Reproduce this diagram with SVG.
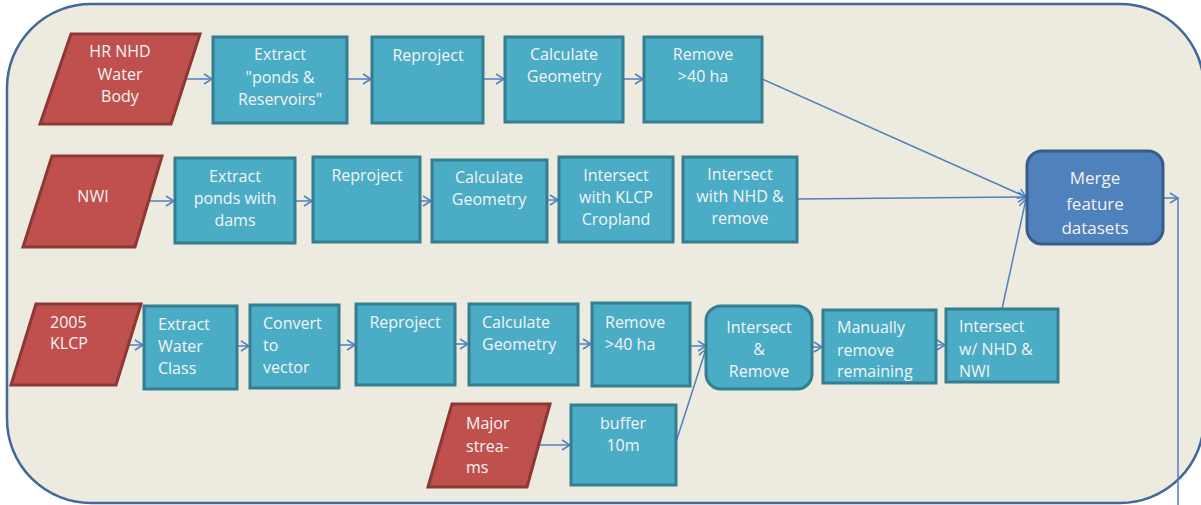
<svg xmlns="http://www.w3.org/2000/svg" width="1201" height="505" viewBox="0 0 1201 505">
<style>
.bg{fill:#EDEADF;stroke:#41689A;stroke-width:2.5}
.data{fill:#C0504D;stroke:#8C3836;stroke-width:3;stroke-linejoin:miter}
.proc{fill:#4BACC6;stroke:#357D91;stroke-width:3}
.merge{fill:#4F81BD;stroke:#385D8A;stroke-width:3}
text{font-family:"Open Sans","Noto Sans","Liberation Sans",sans-serif;font-size:16px;fill:#F4F4F4}
.c{text-anchor:middle}
.big{font-size:17px}
.conn{stroke:#4F81BD;stroke-width:1.5;fill:none}
</style>
<defs>
<marker id="ah" markerUnits="userSpaceOnUse" markerWidth="12" markerHeight="12" refX="9" refY="6" orient="auto">
<path d="M1,1 L9,6 L1,11" fill="none" stroke="#4F81BD" stroke-width="1.5"/>
</marker>
</defs>
<rect class="bg" x="7" y="4" width="1197" height="499" rx="84" ry="84"/>
<g id="connectors">
<line class="conn" x1="185" y1="79" x2="212" y2="79" marker-end="url(#ah)"/>
<line class="conn" x1="347" y1="79" x2="371" y2="79" marker-end="url(#ah)"/>
<line class="conn" x1="483" y1="79" x2="504" y2="79" marker-end="url(#ah)"/>
<line class="conn" x1="623" y1="79" x2="643" y2="79" marker-end="url(#ah)"/>
<line class="conn" x1="762" y1="79" x2="1026" y2="197" marker-end="url(#ah)"/>
<line class="conn" x1="148" y1="201" x2="174" y2="201" marker-end="url(#ah)"/>
<line class="conn" x1="295" y1="201" x2="312" y2="201" marker-end="url(#ah)"/>
<line class="conn" x1="420" y1="201" x2="431" y2="201" marker-end="url(#ah)"/>
<line class="conn" x1="547" y1="200" x2="558" y2="200" marker-end="url(#ah)"/>
<line class="conn" x1="797" y1="199" x2="1026" y2="197" marker-end="url(#ah)"/>
<line class="conn" x1="1002" y1="309" x2="1026" y2="199" marker-end="url(#ah)"/>
<line class="conn" x1="1163" y1="198" x2="1178" y2="198" marker-end="url(#ah)"/>
<line class="conn" x1="1178" y1="198" x2="1178" y2="505"/>
<line class="conn" x1="128" y1="345" x2="143" y2="345" marker-end="url(#ah)"/>
<line class="conn" x1="237" y1="346" x2="249" y2="346" marker-end="url(#ah)"/>
<line class="conn" x1="339" y1="345" x2="355" y2="345" marker-end="url(#ah)"/>
<line class="conn" x1="455" y1="344" x2="468" y2="344" marker-end="url(#ah)"/>
<line class="conn" x1="578" y1="344" x2="591" y2="344" marker-end="url(#ah)"/>
<line class="conn" x1="690" y1="346" x2="706" y2="346" marker-end="url(#ah)"/>
<line class="conn" x1="812" y1="347" x2="822" y2="347" marker-end="url(#ah)"/>
<line class="conn" x1="936" y1="345" x2="945" y2="345" marker-end="url(#ah)"/>
<line class="conn" x1="538" y1="445" x2="570" y2="445" marker-end="url(#ah)"/>
<line class="conn" x1="676" y1="442" x2="706" y2="349" marker-end="url(#ah)"/>
</g>
<g id="hr-nhd">
<polygon class="data" points="71,34 200,34 171,124 40,124"/>
<text class="c" x="120" y="57">HR NHD</text>
<text class="c" x="120" y="80">Water</text>
<text class="c" x="120" y="102">Body</text>
</g>
<g id="extract-ponds-res">
<rect class="proc" x="213" y="37" width="134" height="86"/>
<text class="c" x="280" y="60">Extract</text>
<text class="c" x="280" y="83">"ponds &amp;</text>
<text class="c" x="280" y="105">Reservoirs"</text>
</g>
<g id="reproject1">
<rect class="proc" x="372" y="37" width="111" height="86"/>
<text class="c" x="428" y="61">Reproject</text>
</g>
<g id="calc1">
<rect class="proc" x="505" y="37" width="118" height="85"/>
<text class="c" x="564" y="60">Calculate</text>
<text class="c" x="564" y="82">Geometry</text>
</g>
<g id="remove1">
<rect class="proc" x="644" y="37" width="118" height="85"/>
<text class="c" x="703" y="60">Remove</text>
<text class="c" x="703" y="82">&gt;40 ha</text>
</g>
<g id="merge">
<rect class="merge" x="1027" y="151" width="136" height="93" rx="15" ry="15"/>
<text class="c big" x="1095" y="184">Merge</text>
<text class="c big" x="1095" y="210">feature</text>
<text class="c big" x="1095" y="234">datasets</text>
</g>
<g id="nwi">
<polygon class="data" points="52,156 162,156 135,247 23,247"/>
<text class="c" x="93" y="202">NWI</text>
</g>
<g id="extract-dams">
<rect class="proc" x="175" y="158" width="120" height="85"/>
<text class="c" x="235" y="182">Extract</text>
<text class="c" x="235" y="204">ponds with</text>
<text class="c" x="235" y="226">dams</text>
</g>
<g id="reproject2">
<rect class="proc" x="313" y="157" width="107" height="85"/>
<text class="c" x="367" y="181">Reproject</text>
</g>
<g id="calc2">
<rect class="proc" x="432" y="160" width="115" height="82"/>
<text class="c" x="489" y="183">Calculate</text>
<text class="c" x="489" y="205">Geometry</text>
</g>
<g id="intersect-klcp">
<rect class="proc" x="559" y="157" width="114" height="85"/>
<text class="c" x="616" y="181">Intersect</text>
<text class="c" x="616" y="203">with KLCP</text>
<text class="c" x="616" y="225">Cropland</text>
</g>
<g id="intersect-nhd">
<rect class="proc" x="683" y="157" width="114" height="85"/>
<text class="c" x="740" y="180">Intersect</text>
<text class="c" x="740" y="202">with NHD &amp;</text>
<text class="c" x="740" y="224">remove</text>
</g>
<g id="klcp">
<polygon class="data" points="36,304 141,304 116,385 11,385"/>
<text x="50" y="328">2005</text>
<text x="50" y="349">KLCP</text>
</g>
<g id="extract-water">
<rect class="proc" x="144" y="306" width="93" height="83"/>
<text x="158" y="330">Extract</text>
<text x="158" y="352">Water</text>
<text x="158" y="374">Class</text>
</g>
<g id="convert">
<rect class="proc" x="250" y="305" width="89" height="83"/>
<text x="263" y="329">Convert</text>
<text x="263" y="351">to</text>
<text x="263" y="373">vector</text>
</g>
<g id="reproject3">
<rect class="proc" x="356" y="304" width="99" height="81"/>
<text class="c" x="405" y="328">Reproject</text>
</g>
<g id="calc3">
<rect class="proc" x="469" y="304" width="109" height="81"/>
<text x="482" y="328">Calculate</text>
<text x="482" y="350">Geometry</text>
</g>
<g id="remove3">
<rect class="proc" x="592" y="303" width="98" height="83"/>
<text x="605" y="328">Remove</text>
<text x="605" y="350">&gt;40 ha</text>
</g>
<g id="intersect-remove">
<rect class="proc" x="706" y="306" width="106" height="83" rx="15" ry="15"/>
<text class="c" x="759" y="333">Intersect</text>
<text class="c" x="759" y="355">&amp;</text>
<text class="c" x="759" y="377">Remove</text>
</g>
<g id="manual">
<rect class="proc" x="823" y="310" width="113" height="73"/>
<text x="837" y="333">Manually</text>
<text x="837" y="356">remove</text>
<text x="837" y="377">remaining</text>
</g>
<g id="intersect-nhd-nwi">
<rect class="proc" x="946" y="309" width="112" height="73"/>
<text x="959" y="332">Intersect</text>
<text x="959" y="355">w/ NHD &amp;</text>
<text x="959" y="377">NWI</text>
</g>
<g id="major-streams">
<polygon class="data" points="452,404 550,404 527,487 428,487"/>
<text x="466" y="429">Major</text>
<text x="466" y="452">strea-</text>
<text x="466" y="473">ms</text>
</g>
<g id="buffer">
<rect class="proc" x="571" y="405" width="105" height="80"/>
<text class="c" x="623" y="429">buffer</text>
<text class="c" x="623" y="451">10m</text>
</g>
</svg>
